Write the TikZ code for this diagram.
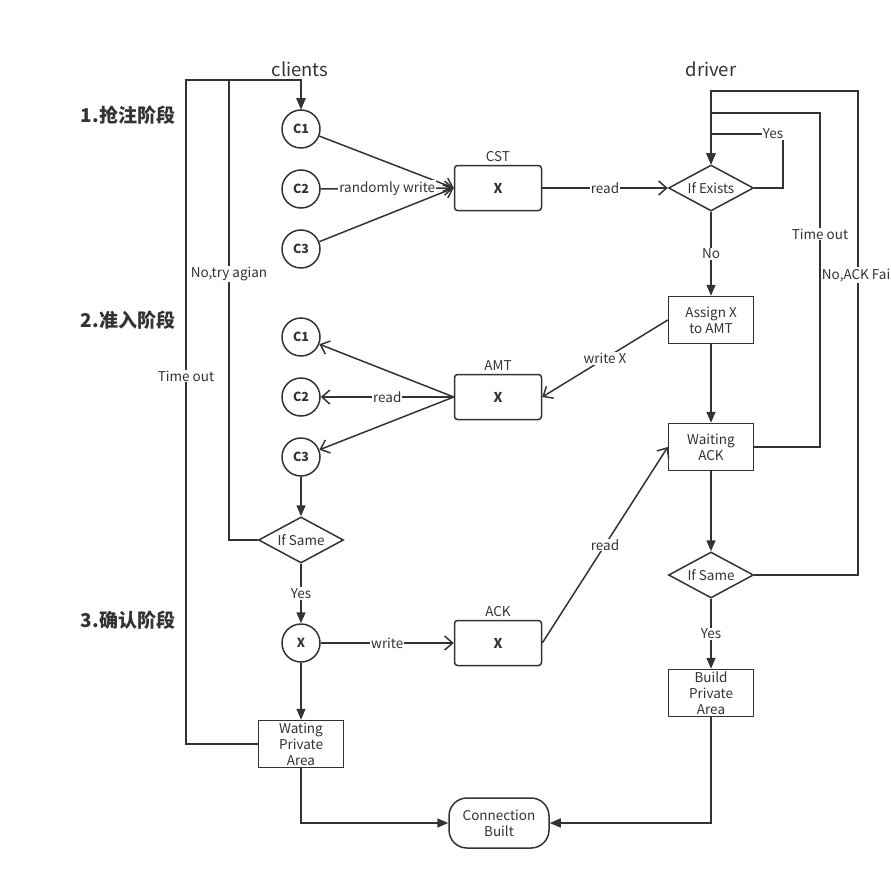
\documentclass[tikz,border=0pt]{standalone}
\usepackage{fontspec}
\setmainfont{Noto Sans CJK SC}
\usetikzlibrary{arrows.meta,positioning,shapes.geometric}

\begin{document}
\begin{tikzpicture}[
  x=1pt, y=-1pt,
  every node/.style={text=black!80},
  flow/.style={-{Triangle[length=11pt,width=9pt]}, line width=1.5pt, draw=black!80},
  msg/.style={-{Straight Barb[length=8pt,width=14pt]}, line width=1.5pt, draw=black!80},
  cli/.style={circle, draw=black!80, line width=1.5pt, minimum size=38pt, inner sep=0pt, font=\fontsize{12.5}{14}\selectfont\bfseries},
  store/.style={rectangle, rounded corners=3pt, draw=black!80, line width=1.5pt, minimum width=87pt, minimum height=45pt, font=\fontsize{13.5}{15}\selectfont\bfseries},
  proc/.style={rectangle, draw=black!80, line width=1.5pt, minimum width=85pt, minimum height=47pt, inner sep=0pt, align=center, font=\fontsize{13.5}{16}\selectfont},
  decide/.style={diamond, draw=black!80, line width=1.5pt, aspect=1.85, minimum width=85pt, minimum height=46pt, inner sep=0pt, font=\fontsize{13.5}{15}\selectfont},
  term/.style={rectangle, rounded corners=18pt, draw=black!80, line width=1.5pt, minimum width=100pt, minimum height=50pt, align=center, font=\fontsize{13.5}{16}\selectfont},
  lbl/.style={fill=white, inner sep=1pt, font=\fontsize{13.5}{15}\selectfont},
  areaname/.style={font=\fontsize{13.5}{15}\selectfont},
  title/.style={font=\fontsize{18.5}{20}\selectfont},
  stage/.style={font=\fontsize{19}{21}\selectfont\bfseries}
]
  \useasboundingbox (0,0) rectangle (891,880);

  % headings
  \node[title] (clients) at (300,69) {clients};
  \node[title] (driver) at (711,69) {driver};
  \node[stage] (st1) at (128,115) {1.抢注阶段};
  \node[stage] (st2) at (128,320) {2.准入阶段};
  \node[stage] (st3) at (128,620) {3.确认阶段};

  % clients side
  \node[cli] (C1) at (301,129) {C1};
  \node[cli] (C2) at (301,189) {C2};
  \node[cli] (C3) at (301,249) {C3};
  \node[cli] (D1) at (301,337) {C1};
  \node[cli] (D2) at (301,397) {C2};
  \node[cli] (D3) at (301,457) {C3};
  \node[decide] (same1) at (301,540) {If Same};
  \node[cli] (X) at (301,643) {X};
  \node[proc] (wpa) at (301,744) {Wating\\Private\\Area};

  % shared areas
  \node[store] (cst) at (498,188) {X};
  \node[areaname, above=0pt of cst] (cstl) {CST};
  \node[store] (amt) at (498,397) {X};
  \node[areaname, above=0pt of amt] (amtl) {AMT};
  \node[store] (ack) at (498,643) {X};
  \node[areaname, above=0pt of ack] (ackl) {ACK};
  \node[term] (done) at (499,823) {Connection\\Built};

  % driver side
  \node[decide] (exists) at (711,188) {If Exists};
  \node[proc] (assign) at (711,320) {Assign X\\to AMT};
  \node[proc] (wack) at (711,447) {Waiting\\ACK};
  \node[decide] (same2) at (711,575) {If Same};
  \node[proc] (build) at (711,693) {Build\\Private\\Area};

  % stage 1
  \draw[msg] (C1) -- (cst.west);
  \draw[msg] (C2) -- node[lbl] {randomly write} (cst.west);
  \draw[msg] (C3) -- (cst.west);
  \draw[msg] (cst) -- node[lbl] {read} (exists);
  \draw[flow] (exists) -- node[lbl] {No} (assign);
  \draw[flow] (exists.east) -- (783,188) -- (783,134) -- node[lbl, pos=0.14] {Yes} (711,134) -- (exists.north);

  % stage 2
  \draw[msg] (assign.west) -- node[lbl] {write X} (amt.east);
  \draw[msg] (amt.west) -- (D1);
  \draw[msg] (amt.west) -- node[lbl] {read} (D2);
  \draw[msg] (amt.west) -- (D3);
  \draw[flow] (assign) -- (wack);
  \draw[flow] (D3) -- (same1);
  \draw[flow] (same1.west) -- (229,540) -- node[lbl, pos=0.578] {No,try agian} (229,80) -- (301,80) -- (C1.north);

  % stage 3
  \draw[flow] (same1) -- node[lbl] {Yes} (X);
  \draw[msg] (X) -- node[lbl] {write} (ack);
  \draw[msg] (ack.east) -- node[lbl] {read} (wack.west);
  \draw[flow] (X) -- (wpa);
  \draw[flow] (wack) -- (same2);
  \draw[flow] (same2) -- node[lbl] {Yes} (build);
  \draw[flow] (wpa.west) -- (186,744) -- node[lbl, pos=0.554] {Time out} (186,80) -- (301,80) -- (C1.north);
  \draw[flow] (wack.east) -- (820,447) -- node[lbl, pos=0.638] {Time out} (820,113) -- (711,113) -- (exists.north);
  \draw[flow] (same2.east) -- (858,575) -- node[lbl, pos=0.62] {No,ACK Fail} (858,91) -- (711,91) -- (exists.north);

  % end
  \draw[flow] (wpa.south) |- (done.west);
  \draw[flow] (build.south) |- (done.east);
\end{tikzpicture}
\end{document}
